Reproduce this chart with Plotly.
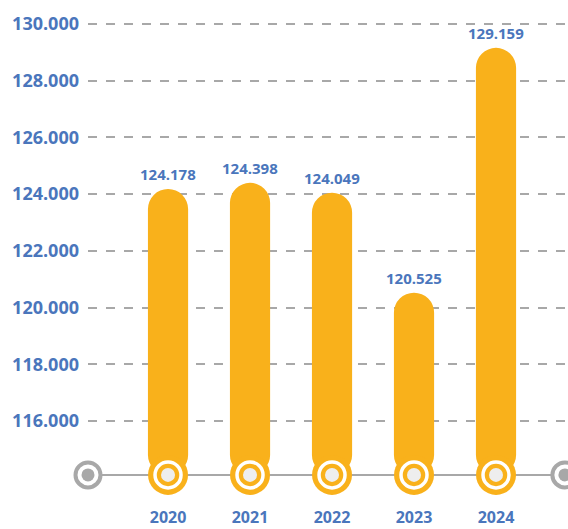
import plotly.graph_objects as go

years = ["2020", "2021", "2022", "2023", "2024"]
values = [124178, 124398, 124049, 120525, 129159]
y_ticks = [116000, 118000, 120000, 122000, 124000, 126000, 128000, 130000]
baseline = 114100

BLUE = "#4a76bc"
ORANGE = "#f9b11b"
GRAY = "#a8a8a8"
FONT = "Open Sans"

x_idx = list(range(len(years)))
x_lo, x_hi = -0.976, 4.878
end_x = [x_lo, 4.84]

fig = go.Figure()

# bars with rounded top
fig.add_trace(go.Bar(
    x=x_idx, y=[v - baseline for v in values], base=baseline,
    width=0.49, marker=dict(color=ORANGE, cornerradius=20, line=dict(width=0)),
    hoverinfo="skip", showlegend=False,
))
# rounded bottoms
fig.add_trace(go.Scatter(
    x=x_idx, y=[baseline] * len(years), mode="markers",
    marker=dict(size=40, color=ORANGE, line=dict(width=0)),
    cliponaxis=False, hoverinfo="skip", showlegend=False,
))
# white rings
fig.add_trace(go.Scatter(
    x=x_idx, y=[baseline] * len(years), mode="markers",
    marker=dict(size=26, color=ORANGE, line=dict(width=3.5, color="white")),
    cliponaxis=False, hoverinfo="skip", showlegend=False,
))
# inner dots
fig.add_trace(go.Scatter(
    x=x_idx, y=[baseline] * len(years), mode="markers",
    marker=dict(size=14, color="#eeeeee", line=dict(width=0)),
    cliponaxis=False, hoverinfo="skip", showlegend=False,
))
# end markers of baseline
fig.add_trace(go.Scatter(
    x=end_x, y=[baseline] * 2, mode="markers",
    marker=dict(size=25, color="white", line=dict(width=4, color=GRAY)),
    cliponaxis=False, hoverinfo="skip", showlegend=False,
))
fig.add_trace(go.Scatter(
    x=end_x, y=[baseline] * 2, mode="markers",
    marker=dict(size=13, color=GRAY, line=dict(width=0)),
    cliponaxis=False, hoverinfo="skip", showlegend=False,
))

# value labels
for xi, v in zip(x_idx, values):
    fig.add_annotation(
        x=xi, y=v, xref="x", yref="y",
        text=f"{v:,}".replace(",", "."), showarrow=False,
        yanchor="bottom", yshift=3,
        font=dict(family=FONT, size=15, color=BLUE, weight=700),
    )

fig.add_shape(type="line", xref="x", yref="y", x0=end_x[0], x1=end_x[1],
              y0=baseline, y1=baseline, line=dict(color=GRAY, width=2), layer="below")

fig.update_layout(
    width=568, height=529,
    margin=dict(l=88, r=0, t=10, b=25),
    plot_bgcolor="white", paper_bgcolor="white",
    separators=",.",
    font=dict(family=FONT, color=BLUE),
    xaxis=dict(
        range=[x_lo, x_hi], tickvals=x_idx, ticktext=years,
        showgrid=False, zeroline=False, showline=False, ticks="",
        tickfont=dict(family=FONT, size=16, color=BLUE, weight=700),
        ticklabelstandoff=2, automargin=False,
    ),
    yaxis=dict(
        range=[113073, 130494], tickvals=y_ticks, tickformat=",d",
        showgrid=True, gridcolor=GRAY, griddash="dash", gridwidth=1.5,
        zeroline=False, showline=False, ticks="",
        tickfont=dict(family=FONT, size=18, color=BLUE, weight=700),
        ticklabelstandoff=8, automargin=False,
    ),
)

fig.write_html("out.html", config={"displayModeBar": False},
               post_script="document.body.style.margin='0px';")
